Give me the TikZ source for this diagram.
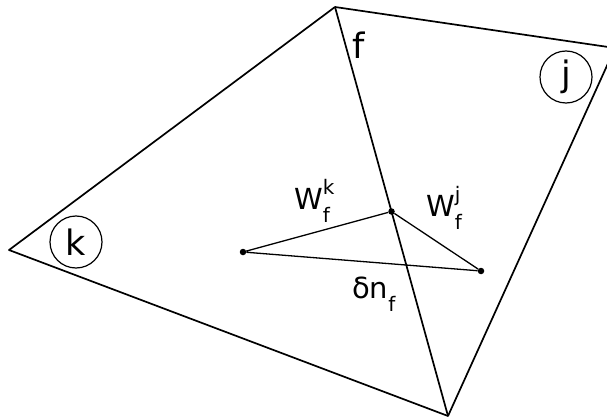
\documentclass[tikz,border=0pt]{standalone}
\usepackage{fontspec}
\setmainfont{DejaVu Sans}
\usetikzlibrary{calc}
\newcommand{\supsub}[2]{{\fontsize{20}{20}\selectfont\ooalign{\raisebox{0.72em}{#1}\cr\raisebox{-0.68em}{#2}\cr}}}
\begin{document}
\begin{tikzpicture}[x=1pt,y=-1pt,
  edge/.style={line width=1.7pt, line join=round},
  link/.style={line width=1.3pt},
  dot/.style={circle, fill, inner sep=0pt, minimum size=6.5pt},
  cell/.style={circle, draw, line width=1.2pt, minimum size=52pt, inner sep=0pt, font=\fontsize{35}{35}\selectfont},
  lbl/.style={font=\fontsize{29}{29}\selectfont, inner sep=0pt}]
\fill[white] (0,0) rectangle (607,417);
\clip (0,0) rectangle (607,417);
\coordinate (T) at (335,7);
\coordinate (L) at (9,250);
\coordinate (B) at (448,416);
\coordinate (R) at (615,48);
\draw[edge] (T) -- (R) -- (B) -- (L) -- cycle;
\draw[edge] (T) -- (B);
\node[dot] (M) at ($(T)!0.5!(B)$) {};
\node[dot] (A) at (243,252) {};
\node[dot] (C) at (481,271) {};
\draw[link] (A) -- (M) -- (C) -- (A);
\node[cell] (j) at (566,77) {j};
\node[cell] (k) at (76,242) {k};
\node[lbl, font=\fontsize{35}{35}\selectfont] (f) at (359,45) {f};
\node[lbl, anchor=base west] (wk) at (294,209) {W\supsub{k}{f}};
\node[lbl, anchor=base west] (wj) at (426,216) {W\supsub{j}{f}};
\node[lbl, anchor=base west] (dn) at (352,298) {δn\supsub{}{f}};
\end{tikzpicture}
\end{document}
